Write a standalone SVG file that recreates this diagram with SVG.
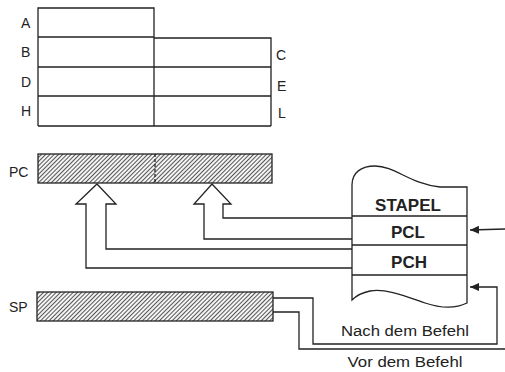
<svg xmlns="http://www.w3.org/2000/svg" width="505" height="372" viewBox="0 0 505 372">
<style>
.ln{fill:none;stroke:#222;stroke-width:1.3;stroke-linejoin:miter}
.lbl{font-family:"Liberation Sans",Arial,sans-serif;font-size:14px;fill:#222}
.stk{font-family:"Liberation Sans",Arial,sans-serif;font-size:17px;font-weight:bold;fill:#222;text-anchor:middle}
.note{font-family:"Liberation Sans",Arial,sans-serif;font-size:14px;fill:#222;text-anchor:middle}
.reg{fill:url(#hatch);stroke:#222;stroke-width:1.3}
</style>
<defs>
<pattern id="hatch" width="3" height="3" patternUnits="userSpaceOnUse" patternTransform="rotate(45)">
<rect width="3" height="3" fill="#f4f4f4"/>
<line x1="0.5" y1="0" x2="0.5" y2="3" stroke="#444" stroke-width="0.9"/>
</pattern>
<marker id="ah" markerWidth="10" markerHeight="8" refX="9" refY="4" orient="auto" markerUnits="userSpaceOnUse">
<path d="M0,0 L9,4 L0,8 Z" fill="#222"/>
</marker>
</defs>
<rect width="505" height="372" fill="#fff"/>

<g id="registers">
<path class="ln" d="M38,126 L38,8 L154,8 L154,126 M154,38 L271,38 L271,126 M38,37 L154,37 M38,67 L271,67 M38,96 L271,96 M38,126 L271,126"/>
<text class="lbl" x="21" y="28">A</text>
<text class="lbl" x="21" y="57">B</text>
<text class="lbl" x="21" y="87">D</text>
<text class="lbl" x="21" y="116">H</text>
<text class="lbl" x="276" y="60">C</text>
<text class="lbl" x="277" y="91">E</text>
<text class="lbl" x="278" y="118">L</text>
</g>

<g id="pc">
<rect class="reg" x="38" y="154" width="234" height="29"/>
<line x1="155" y1="154" x2="155" y2="183" stroke="#222" stroke-width="1.3" stroke-dasharray="3,2"/>
<text class="lbl" x="9" y="177">PC</text>
</g>

<g id="sp">
<rect class="reg" x="37" y="292" width="236" height="29"/>
<text class="lbl" x="9" y="312">SP</text>
</g>

<g id="stapel">
<path class="ln" fill="#fff" d="M352,185 C352,172 362,166 375,166 C395,166 410,184 440,187 L467,187 L467,303 C455,309 440,308 425,303 C405,296 385,288 370,291 C360,293 354,298 352,300 Z"/>
<path class="ln" d="M352,216 L467,216 M352,245 L467,245 M352,275 L467,275"/>
<text class="stk" x="408" y="211">STAPEL</text>
<text class="stk" x="408" y="238">PCL</text>
<text class="stk" x="409" y="268">PCH</text>
</g>

<g id="connectors">
<path class="ln" d="M352,268 L86,268 L86,204 L76,204 L97,184 L116,204 L106,204 L106,249 L352,249"/>
<path class="ln" d="M352,239 L204,239 L204,204 L194,204 L212,184 L231,204 L223,204 L223,218 L352,218"/>
<path class="ln" d="M505,229 L470,230" marker-end="url(#ah)"/>
<path class="ln" d="M273,298 L313,298 L313,344 L497,344 L497,287 L470,287" marker-end="url(#ah)"/>
<path class="ln" d="M273,312 L299,312 L299,349 L505,349"/>
</g>

<g id="labels">
<text class="note" x="405" y="336" textLength="128" lengthAdjust="spacingAndGlyphs">Nach dem Befehl</text>
<text class="note" x="405" y="367" textLength="115" lengthAdjust="spacingAndGlyphs">Vor dem Befehl</text>
</g>
</svg>
